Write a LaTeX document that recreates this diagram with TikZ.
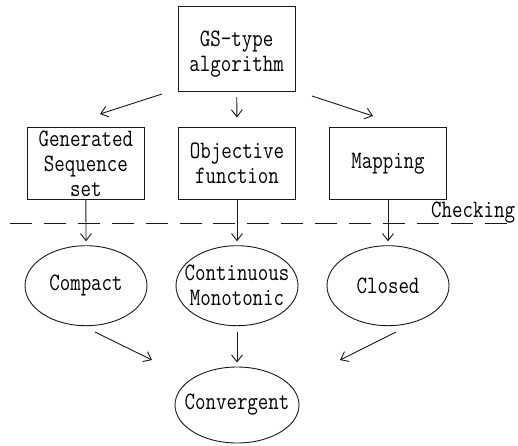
\documentclass[tikz,border=0pt]{standalone}
\usepackage{fontspec}
\setmainfont{Latin Modern Mono}[FakeStretch=0.815]
\usetikzlibrary{arrows.meta,shapes.geometric}
\begin{document}
\begin{tikzpicture}[x=1pt,y=-1pt,
  every node/.style={font=\fontsize{25}{25}\selectfont, align=center},
  conn/.style={draw=black!90, line width=0.9pt, -{Straight Barb[length=7pt,width=11pt]}},
  boxnode/.style={draw=black!90, line width=0.9pt, rectangle, inner sep=0pt, minimum width=117.5pt},
  ellnode/.style={draw=black!90, line width=0.9pt, ellipse, inner xsep=-14pt, inner ysep=-4pt, minimum width=122pt},
  sepline/.style={draw=black!90, line width=0.9pt, dash pattern=on 22pt off 11.9pt}
]
\useasboundingbox (0,0) rectangle (518,445);
% boxes
\node[boxnode, minimum height=85pt] (gs) at (236.7,49.2) {\rule{0pt}{26pt}GS-type\\algorithm};
\node[boxnode, minimum height=72pt] (gen) at (85.9,163.4) {Generated\\Sequence\\set};
\node[boxnode, minimum height=72pt] (obj) at (237,163.4) {Objective\\function};
\node[boxnode, minimum height=72pt] (map) at (388,163.4) {Mapping};
% ellipses
\node[ellnode, minimum height=80pt] (comp) at (86,285.7) {Compact};
\node[ellnode, minimum height=80pt] (cont) at (237,285.7) {Continuous\\Monotonic};
\node[ellnode, minimum height=80pt] (clos) at (388,285.7) {Closed};
\node[ellnode, minimum height=76pt, minimum width=124pt] (conv) at (237,405) {Convergent};
% checking line
\coordinate (dl) at (10,223);
\coordinate (dr) at (510,223);
\draw[sepline] (dl) -- (dr);
\node[anchor=base west, inner sep=0pt] (chk) at (431,217) {Checking};
% top arrows
\coordinate (a1s) at (162,94);  \coordinate (a1e) at (100,114);
\coordinate (a3s) at (312,96);  \coordinate (a3e) at (373,116);
\draw[conn] (a1s) -- (a1e);
\draw[conn, shorten <=5pt, shorten >=9.5pt] (gs.south) -- (obj.north);
\draw[conn] (a3s) -- (a3e);
% check arrows
\draw[conn, shorten >=4pt] (gen.south) -- (comp.north);
\draw[conn, shorten >=4pt] (obj.south) -- (cont.north);
\draw[conn, shorten >=4pt] (map.south) -- (clos.north);
% bottom arrows
\coordinate (b1s) at (95,332);  \coordinate (b1e) at (152,360);
\coordinate (b3s) at (396,332); \coordinate (b3e) at (340,360);
\draw[conn] (b1s) -- (b1e);
\draw[conn, shorten <=6.3pt, shorten >=4pt] (cont.south) -- (conv.north);
\draw[conn] (b3s) -- (b3e);
\end{tikzpicture}
\end{document}
